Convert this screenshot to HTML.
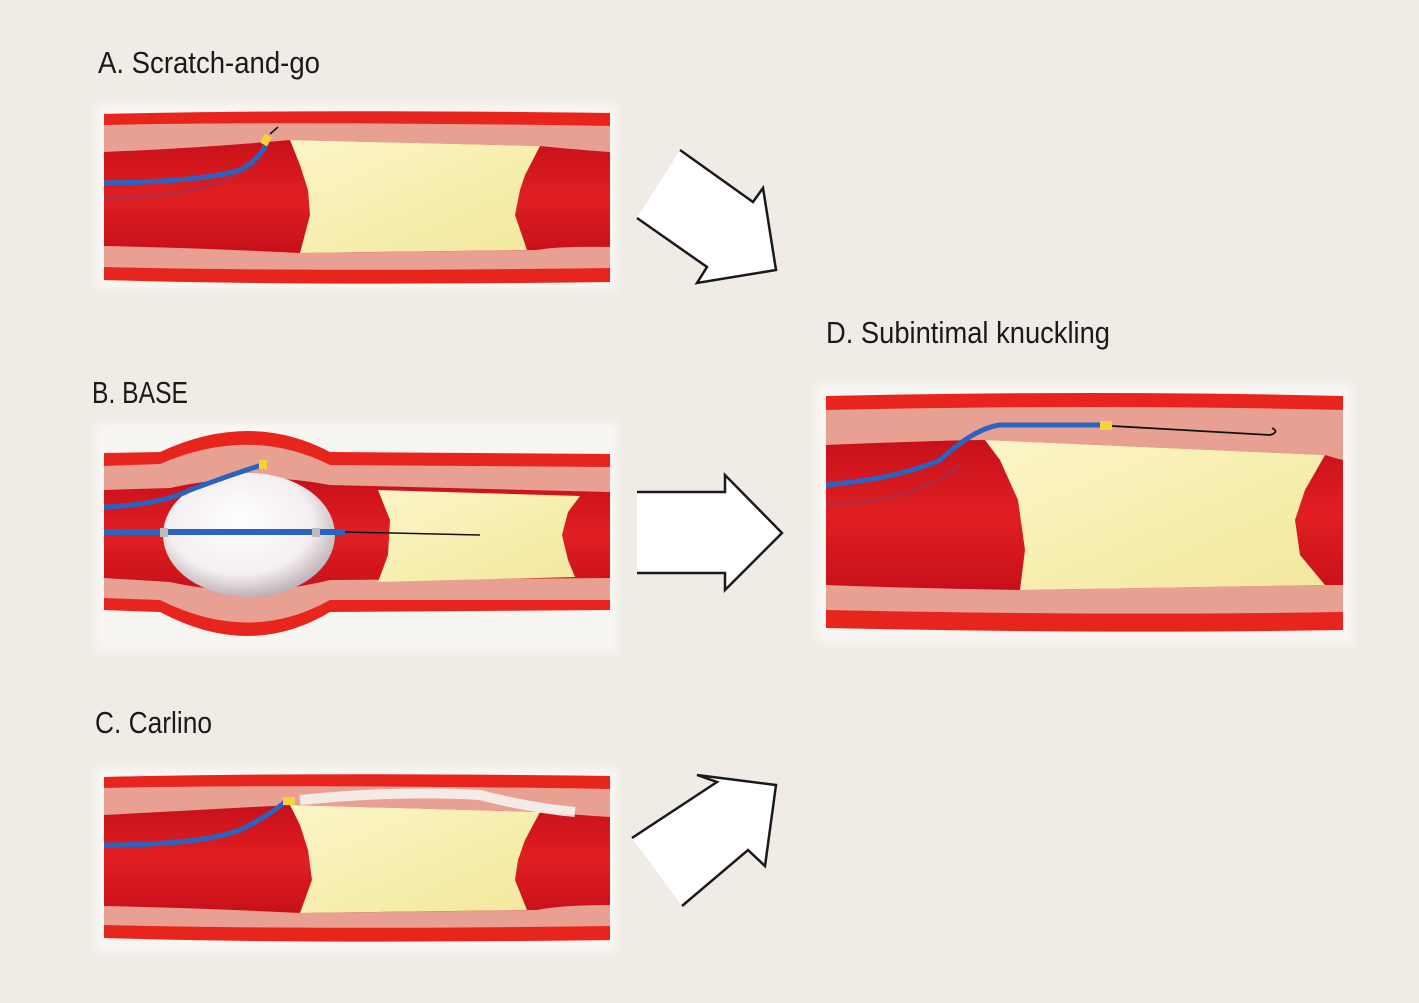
<!DOCTYPE html>
<html><head><meta charset="utf-8"><style>
html,body{margin:0;padding:0;background:#f0ece5;}
svg{display:block}
text{font-family:"Liberation Sans Narrow","Liberation Sans",sans-serif;fill:#1a1a1a}
</style></head><body>
<svg width="1419" height="1003" viewBox="0 0 1419 1003" xmlns="http://www.w3.org/2000/svg">
<defs>
<linearGradient id="lum" x1="0" y1="0" x2="0" y2="1">
<stop offset="0" stop-color="#c8101a"/><stop offset="0.5" stop-color="#e01f22"/><stop offset="1" stop-color="#c8101a"/></linearGradient>
<linearGradient id="pl" x1="0" y1="0" x2="1" y2="1">
<stop offset="0" stop-color="#fbf5c8"/><stop offset="0.5" stop-color="#f7efb0"/><stop offset="1" stop-color="#f3e79e"/></linearGradient>
<radialGradient id="bal" cx="0.45" cy="0.4" r="0.6">
<stop offset="0" stop-color="#ffffff"/><stop offset="0.7" stop-color="#f4eef0"/><stop offset="1" stop-color="#bfb3b8"/></radialGradient>
<filter id="soft"><feGaussianBlur stdDeviation="4"/></filter>
</defs>
<rect width="1419" height="1003" fill="#f0ece5"/>

<text x="98" y="73" font-size="31" textLength="222" lengthAdjust="spacingAndGlyphs">A. Scratch-and-go</text>
<text x="92" y="403" font-size="31" textLength="96" lengthAdjust="spacingAndGlyphs">B. BASE</text>
<text x="95" y="733" font-size="31" textLength="117" lengthAdjust="spacingAndGlyphs">C. Carlino</text>
<text x="826" y="343" font-size="31" textLength="284" lengthAdjust="spacingAndGlyphs">D. Subintimal knuckling</text>

<!-- Vessel A -->
<g>
<rect x="96" y="104" width="522" height="186" fill="#fff" opacity="0.5" filter="url(#soft)"/>
<path d="M104 114 Q300 109 610 113 L610 282 Q300 286 104 280Z" fill="#e8251c"/>
<path d="M104 125 Q300 121 610 126 L610 268 Q300 272 104 267Z" fill="#e8a093"/>
<path d="M104 152 Q200 148 290 140 L540 146 Q580 150 610 152 L610 247 Q560 246 537 250 L300 253 Q200 248 104 246Z" fill="url(#lum)"/>
<path d="M290 140 L540 146 L525 175 L520 190 L515 215 L527 250 L300 253 L310 215 L308 190 L300 165Z" fill="url(#pl)"/>
<path d="M104 183 Q200 182 240 170 Q260 160 268 140" fill="none" stroke="#2a64c0" stroke-width="5"/>
<path d="M104 197 Q200 200 255 165" fill="none" stroke="#8a3a6a" stroke-width="4" opacity="0.4"/>
<rect x="262" y="135" width="8" height="10" fill="#f3d23a" transform="rotate(30 266 140)"/>
<path d="M270 134 L278 127" stroke="#111" stroke-width="1.5"/>
</g>

<!-- Vessel B -->
<g>
<rect x="96" y="422" width="522" height="230" fill="#fff" opacity="0.5" filter="url(#soft)"/>
<path d="M104 453 L160 452 Q250 410 330 452 L610 454 L610 610 L330 612 Q250 660 160 612 L104 610Z" fill="#e8251c"/>
<path d="M104 466 L160 464 Q250 425 330 465 L610 467 L610 600 L330 600 Q250 645 160 600 L104 598Z" fill="#e8a093"/>
<path d="M104 490 L170 488 Q250 470 330 485 L610 492 L610 578 L330 580 Q250 600 170 582 L104 578Z" fill="url(#lum)"/>
<path d="M378 490 L580 496 L568 512 L562 535 L568 560 L575 577 L378 582 L388 555 L390 520Z" fill="url(#pl)"/>
<ellipse cx="249" cy="535" rx="86" ry="62" fill="url(#bal)"/>
<path d="M104 507 Q160 505 190 490 Q230 475 262 465" fill="none" stroke="#2a64c0" stroke-width="5"/>
<path d="M104 532 L345 532" stroke="#2a64c0" stroke-width="6"/>
<rect x="160" y="528" width="8" height="9" fill="#bbb"/><rect x="312" y="528" width="8" height="9" fill="#bbb"/>
<path d="M345 532 L480 535" stroke="#111" stroke-width="1.5"/>
<rect x="259" y="460" width="8" height="9" fill="#f3d23a"/>
</g>

<!-- Vessel C -->
<g>
<rect x="96" y="767" width="522" height="186" fill="#fff" opacity="0.5" filter="url(#soft)"/>
<path d="M104 777 Q300 772 610 776 L610 940 Q300 944 104 938Z" fill="#e8251c"/>
<path d="M104 788 Q300 784 610 789 L610 926 Q300 930 104 925Z" fill="#e8a093"/>
<path d="M104 815 Q200 810 290 805 L540 812 Q580 815 610 817 L610 905 Q560 905 537 910 L300 913 Q200 908 104 906Z" fill="url(#lum)"/>
<path d="M290 805 L540 812 L525 840 L518 860 L515 880 L527 910 L300 913 L312 880 L308 850 L300 825Z" fill="url(#pl)"/>
<path d="M300 800 Q400 790 480 795 Q530 808 575 812" fill="none" stroke="#f5f2f0" stroke-width="10" opacity="0.9"/>
<path d="M104 845 Q200 845 240 830 Q270 815 285 802" fill="none" stroke="#2a64c0" stroke-width="5"/>
<rect x="283" y="797" width="12" height="8" fill="#f3d23a"/>
</g>

<!-- Vessel D -->
<g>
<rect x="816" y="383" width="538" height="260" fill="#fff" opacity="0.5" filter="url(#soft)"/>
<path d="M826 396 Q1100 390 1343 396 L1343 630 Q1100 634 826 628Z" fill="#e8251c"/>
<path d="M826 410 Q1100 404 1343 410 L1343 612 Q1100 616 826 610Z" fill="#e8a093"/>
<path d="M826 445 Q950 440 985 440 L1325 455 Q1335 458 1343 460 L1343 585 L1325 585 L1020 590 Q900 588 826 585Z" fill="url(#lum)"/>
<path d="M985 440 L1325 455 L1305 490 L1295 520 L1300 555 L1325 585 L1020 590 L1025 550 L1018 500 L1000 460Z" fill="url(#pl)"/>
<path d="M826 485 Q900 478 940 460 Q975 428 1000 425 L1105 425" fill="none" stroke="#2a64c0" stroke-width="5"/>
<path d="M826 505 Q920 500 960 465" fill="none" stroke="#8a3a6a" stroke-width="4" opacity="0.4"/>
<rect x="1100" y="421" width="12" height="9" fill="#f3d23a"/>
<path d="M1112 426 L1270 435 Q1280 432 1272 428" fill="none" stroke="#111" stroke-width="1.8"/>
</g>

<!-- Arrows -->
<g fill="#fff" stroke="#1a1a1a" stroke-width="2.5" stroke-linejoin="miter">
<path d="M680 150 L753 202 L763 188 L776 270 L697 283 L707 267 L637 218" />
<path d="M637 492 L725 492 L725 475 L782 533 L725 590 L725 573 L637 573"/>
<path d="M632 838 L717 782 L697 775 L776 785 L765 866 L748 850 L682 906"/>
</g>
</svg>
</body></html>
